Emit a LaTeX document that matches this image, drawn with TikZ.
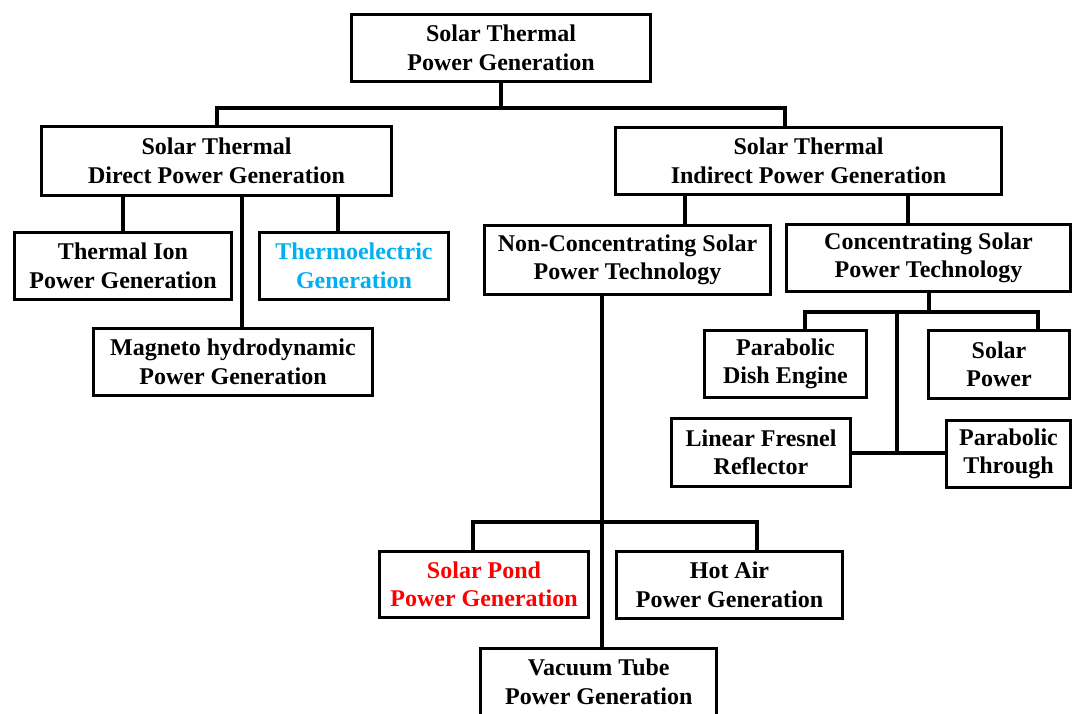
\documentclass[tikz,border=0pt]{standalone}
\usepackage{fontspec}
\setmainfont{Liberation Serif}
\usepackage{xcolor}
\definecolor{thermoblue}{RGB}{0, 176, 240}
\definecolor{pondred}{RGB}{255, 0, 0}
\tikzstyle{box} = [rectangle, draw=black, line width=3pt, align=center, inner sep=0pt, minimum height=67pt, font=\fontsize{24}{28.5}\selectfont\bfseries]
\tikzstyle{link} = [line width=4pt]

\begin{document}
\begin{tikzpicture}[x=1pt, y=-1pt]
    \useasboundingbox (0,0) rectangle (1073,713);
    \clip (0,0) rectangle (1073,713);

    % Top
    \node[box, minimum width=299pt] (root) at (501, 48) {Solar Thermal\\Power Generation};

    % Direct / indirect
    \node[box, minimum width=350pt, minimum height=69pt] (direct) at (216.5, 161) {Solar Thermal\\Direct Power Generation};
    \node[box, minimum width=386pt] (indirect) at (808.5, 161) {Solar Thermal\\Indirect Power Generation};

    % Direct branch
    \node[box, minimum width=217pt] (thermal) at (123, 266) {Thermal Ion\\Power Generation};
    \node[box, minimum width=189pt, text=thermoblue] (thermo) at (354, 266) {Thermoelectric\\Generation};
    \node[box, minimum width=279pt] (magneto) at (233, 362) {Magneto hydrodynamic\\Power Generation};

    % Indirect branch
    \node[box, minimum width=286pt, minimum height=69pt] (nonconc) at (627.5, 260) {Non-Concentrating Solar\\Power Technology};
    \node[box, minimum width=284pt] (conc) at (928.5, 258) {Concentrating Solar\\Power Technology};

    % Concentrating
    \node[box, minimum width=162pt] (dish) at (785.5, 364) {Parabolic\\Dish Engine};
    \node[box, minimum width=141pt, minimum height=68pt] (solarpower) at (999, 364.5) {Solar\\Power};
    \node[box, minimum width=179pt, minimum height=68pt] (fresnel) at (761, 452.5) {Linear Fresnel\\Reflector};
    \node[box, minimum width=124pt] (through) at (1008.5, 454) {Parabolic\\Through};

    % Non-concentrating
    \node[box, minimum width=209pt, minimum height=66pt, text=pondred] (pond) at (484, 584.5) {Solar Pond\\Power Generation};
    \node[box, minimum width=226pt] (hotair) at (729.5, 585) {Hot Air\\Power Generation};
    \node[box, minimum width=236pt] (vacuum) at (598.8, 682) {Vacuum Tube\\Power Generation};

    % Bends
    \coordinate (bus0) at (501, 108);
    \coordinate (mhd) at (242, 0);
    \coordinate (teg) at (338, 0);
    \coordinate (ncx) at (685, 0);
    \coordinate (ccx) at (908, 0);
    \coordinate (pdx) at (805, 312);
    \coordinate (spx) at (1038, 312);
    \coordinate (mid) at (897, 312);
    \coordinate (vtx) at (602, 0);
    \coordinate (spl) at (473, 522);
    \coordinate (spr) at (757, 522);

    % Lines
    \draw[link] (root.south) -- (bus0);
    \draw[link] (direct.north) |- (bus0) -| ([xshift=-23.5pt]indirect.north);
    \draw[link] (thermal.north) -- (thermal.north |- direct.south);
    \draw[link] (direct.south -| mhd) -- (magneto.north -| mhd);
    \draw[link] (direct.south -| teg) -- (thermo.north -| teg);
    \draw[link] (indirect.south -| ncx) -- (nonconc.north -| ncx);
    \draw[link] (indirect.south -| ccx) -- (conc.north -| ccx);
    \draw[link] (conc.south) -- (conc.south |- pdx);
    \draw[link] (dish.north -| pdx) -- (pdx) -- (spx) -- (solarpower.north -| spx);
    \draw[link] (mid) -- (mid |- fresnel.east);
    \draw[link] (fresnel.east) -- (fresnel.east -| through.west);
    \draw[link] (nonconc.south -| vtx) -- (vacuum.north -| vtx);
    \draw[link] (pond.north -| spl) |- (spr) -- (hotair.north -| spr);
\end{tikzpicture}
\end{document}
